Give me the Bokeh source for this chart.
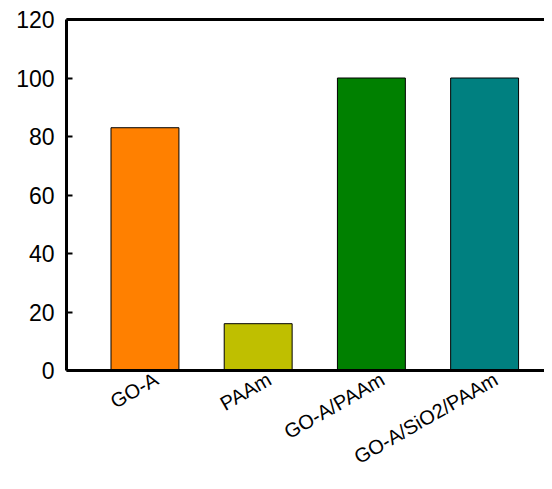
from bokeh.plotting import figure
from bokeh.models import FixedTicker, LinearAxis, Range1d, ColumnDataSource
from bokeh.embed import file_html
from bokeh.resources import INLINE
import math

categories = ["GO-A", "PAAm", "GO-A/PAAm", "GO-A/SiO2/PAAm"]
values = [83, 16, 100, 100]
colors = ["#FF8000", "#BFBF00", "#008000", "#008080"]
y_ticks = [0, 20, 40, 60, 80, 100, 120]

xs = list(range(len(categories)))
label_shift = 0.1
label_ticks = [x + label_shift for x in xs]
src = ColumnDataSource(dict(x=xs, top=values, color=colors))

p = figure(width=544, height=481, output_backend="svg", toolbar_location=None,
           x_range=Range1d(-0.693, 3.529), y_range=Range1d(0, 120),
           min_border_left=66, min_border_right=0, min_border_top=19, min_border_bottom=111)
p.outline_line_color = None
p.grid.visible = False
p.background_fill_color = "white"
p.border_fill_color = "white"

p.vbar(x="x", top="top", width=0.6, bottom=0, fill_color="color",
       line_color="black", line_width=1, source=src)

font = "Liberation Sans"
# y axis
ya = p.yaxis[0]
ya.ticker = FixedTicker(ticks=y_ticks)
ya.axis_line_width = 3
ya.major_tick_line_width = 2
ya.major_tick_in = 6
ya.major_tick_out = 0
ya.minor_tick_line_color = None
ya.major_label_text_font = font
ya.major_label_text_font_size = "23px"
ya.major_label_text_color = "black"
ya.major_label_standoff = 12

# x axis
xa = p.xaxis[0]
xa.ticker = FixedTicker(ticks=label_ticks)
xa.major_label_overrides = {t: c for t, c in zip(label_ticks, categories)}
xa.axis_line_width = 3
xa.major_tick_line_color = None
xa.minor_tick_line_color = None
xa.major_tick_in = 0
xa.major_tick_out = 0
xa.major_label_orientation = math.pi / 6
xa.major_label_text_font = font
xa.major_label_text_font_size = "20px"
xa.major_label_text_color = "black"
xa.major_label_standoff = 7

# top border line
top = LinearAxis(ticker=FixedTicker(ticks=[]), axis_line_width=3,
                 major_tick_line_color=None, minor_tick_line_color=None,
                 major_label_text_color=None, major_label_text_font_size="1px")
p.add_layout(top, "above")

open("out.html", "w").write(file_html(p, INLINE))
